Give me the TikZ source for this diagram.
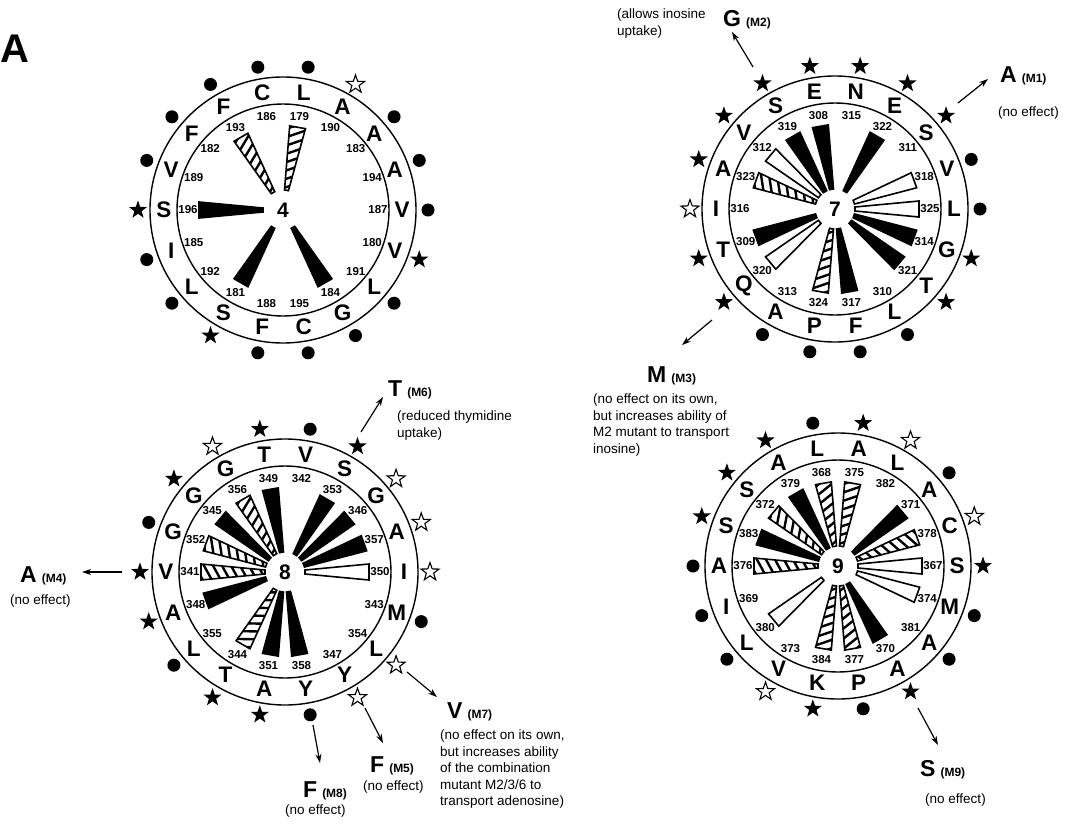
\documentclass[tikz,border=0pt]{standalone}
\usepackage{fontspec}
\setmainfont{Liberation Sans}
\usetikzlibrary{shapes.geometric,arrows.meta}

\newcommand{\bigL}{\fontsize{23}{23}\selectfont\bfseries}
\newcommand{\smallM}{\fontsize{12}{12}\selectfont\bfseries}
\newcommand{\notefont}{\fontsize{13.5}{16.5}\selectfont}

\tikzset{
  wdg/.style={line width=1.6pt, line join=miter, draw=black},
  blackw/.style={wdg, fill=black},
  whitew/.style={wdg, fill=white},
  dotm/.style={circle, fill=black, inner sep=0pt, minimum size=13pt},
  starm/.style={star, star points=5, star point ratio=2.5, fill=black, inner sep=0pt, minimum size=19pt},
  ostarm/.style={starm, fill=white, draw=black, line width=1.1pt},
  resl/.style={font=\fontsize{22.5}{22.5}\selectfont\bfseries, inner sep=0pt},
  resn/.style={font=\fontsize{11.5}{12}\selectfont\bfseries, inner sep=0pt},
  ctr/.style={font=\fontsize{21}{21}\selectfont\bfseries, inner sep=0pt},
  ring/.style={line width=1.4pt},
  arr/.style={-{Stealth[length=9pt,width=6pt]}, line width=1.2pt},
  lab/.style={anchor=base west, inner sep=0pt},
  note/.style={anchor=north west, inner sep=0pt, align=left, font=\notefont},
}

\newcommand{\wB}[1]{\draw[blackw,rotate=#1] (20,-2) -- (84,-8) -- (84,8) -- (20,2) -- cycle;}
\newcommand{\wW}[1]{\draw[whitew,rotate=#1] (20,-2) -- (84,-8) -- (84,8) -- (20,2) -- cycle;}
\newcommand{\wH}[1]{\begin{scope}[rotate=#1]
  \fill[white] (20,-2) -- (84,-8) -- (84,8) -- (20,2) -- cycle;
  \begin{scope}
    \clip (20,-2) -- (84,-8) -- (84,8) -- (20,2) -- cycle;
    \foreach \s in {18,27,...,86} {\draw[line width=2.4pt] (\s,-10) -- (\s+11,10);}
  \end{scope}
  \draw[wdg] (20,-2) -- (84,-8) -- (84,8) -- (20,2) -- cycle;
\end{scope}}

\newcommand{\wbase}[3]{% id, centre label, residue list
  \draw[ring] (0,0) circle[radius=133pt];
  \draw[ring] (0,0) circle[radius=106pt];
  \node[ctr] (#1C) at (0,0) {#2};
  \foreach \a/\L/\n in {#3} {
    \node[resl] (#1L\a) at ({119*cos(\a)},{-119*sin(\a)}) {\L};
    \node[resn] (#1N\a) at ({95*cos(\a)},{-95*sin(\a)}) {\n};
  }}
\newcommand{\wmarks}[4]{% id, dots, stars, open stars
  \foreach \a in {#2} {\node[dotm] (#1D\a) at ({145*cos(\a)},{-145*sin(\a)}) {};}
  \foreach \a in {#3} {\node[starm] (#1S\a) at ({145*cos(\a)},{-145*sin(\a)}) {};}
  \foreach \a in {#4} {\node[ostarm] (#1O\a) at ({145*cos(\a)},{-145*sin(\a)}) {};}
}

\begin{document}
\begin{tikzpicture}[x=1pt,y=-1pt]
\fill[white] (0,0) rectangle (1068,827);
\useasboundingbox (0,0) rectangle (1068,827);

\node[anchor=base west, inner sep=0pt, font=\fontsize{40}{40}\selectfont\bfseries] (panel) at (0,62) {A};

% ---------- wheel 4
\begin{scope}[shift={(283,210)}]
  \wB{180}\wB{240}\wB{300}
  \wH{80}\wH{120}
  \wbase{wa}{4}{0/V/187,20/A/194,40/A/183,60/A/190,80/L/179,100/C/186,120/F/193,140/F/182,160/V/189,180/S/196,200/I/185,220/L/192,240/S/181,260/F/188,280/C/195,300/G/184,320/L/191,340/V/180}
  \wmarks{wa}{0,20,40,80,100,120,140,160,200,220,260,280,300,320}{180,240,340}{60}
\end{scope}

% ---------- wheel 7
\begin{scope}[shift={(835,209)}]
  \wB{60}\wB{100}\wB{120}\wB{200}\wB{280}\wB{320}\wB{340}
  \wW{0}\wW{20}\wW{140}\wW{220}
  \wH{160}\wH{260}
  \wbase{wb}{7}{0/L/325,20/V/318,40/S/311,60/E/322,80/N/315,100/E/308,120/S/319,140/V/312,160/A/323,180/I/316,200/T/309,220/Q/320,240/A/313,260/P/324,280/F/317,300/L/310,320/T/321,340/G/314}
  \wmarks{wb}{0,20,240,260,280,300}{40,60,80,100,120,140,160,200,220,320,340}{180}
\end{scope}

% ---------- wheel 8
\begin{scope}[shift={(285,572)}]
  \wB{20}\wB{40}\wB{60}\wB{100}\wB{140}\wB{200}\wB{260}\wB{280}
  \wW{0}
  \wH{120}\wH{160}\wH{180}\wH{240}
  \wbase{wc}{8}{0/I/350,20/A/357,40/G/346,60/S/353,80/V/342,100/T/349,120/G/356,140/G/345,160/G/352,180/V/341,200/A/348,220/L/355,240/T/344,260/A/351,280/Y/358,300/Y/347,320/L/354,340/M/343}
  \wmarks{wc}{80,160,220,280,340}{60,100,140,180,200,240,260}{0,20,40,120,300,320}
\end{scope}

% ---------- wheel 9
\begin{scope}[shift={(838,566)}]
  \wB{40}\wB{120}\wB{160}\wB{300}
  \wW{0}\wW{220}\wW{340}
  \wH{20}\wH{80}\wH{100}\wH{140}\wH{180}\wH{260}\wH{280}
  \wbase{wd}{9}{0/S/367,20/C/378,40/A/371,60/L/382,80/A/375,100/L/368,120/A/379,140/S/372,160/S/383,180/A/376,200/I/369,220/L/380,240/V/373,260/K/384,280/P/377,300/A/370,320/A/381,340/M/374}
  \wmarks{wd}{40,100,180,200,220,280,320,340}{0,80,120,140,160,260,300}{20,60,240}
\end{scope}

% ---------- mutation labels
\node[lab] (m2) at (723,27) {\bigL G\hspace{5pt}\smallM (M2)};
\node[note] (m2n) at (617,9) {(allows inosine\\uptake)};
\node[lab] (m1) at (1000,82) {\bigL A\hspace{5pt}\smallM (M1)};
\node[note] (m1n) at (998,107) {(no effect)};
\node[lab] (m3) at (647,382) {\bigL M\hspace{5pt}\smallM (M3)};
\node[note] (m3n) at (593,394) {(no effect on its own,\\but increases ability of\\M2 mutant to transport\\inosine)};
\node[lab] (m6) at (388,396) {\bigL T\hspace{5pt}\smallM (M6)};
\node[note] (m6n) at (397,411) {(reduced thymidine\\uptake)};
\node[lab] (m4) at (20,582) {\bigL A\hspace{5pt}\smallM (M4)};
\node[note] (m4n) at (10,595) {(no effect)};
\node[lab] (m8) at (303,797) {\bigL F\hspace{5pt}\smallM (M8)};
\node[note] (m8n) at (285,805) {(no effect)};
\node[lab] (m5) at (370,772) {\bigL F\hspace{5pt}\smallM (M5)};
\node[note] (m5n) at (363,781) {(no effect)};
\node[lab] (m7) at (447,718) {\bigL V\hspace{5pt}\smallM (M7)};
\node[note] (m7n) at (440,730) {(no effect on its own,\\but increases ability\\of the combination\\mutant M2/3/6 to\\transport adenosine)};
\node[lab] (m9) at (920,776) {\bigL S\hspace{5pt}\smallM (M9)};
\node[note] (m9n) at (925,794) {(no effect)};

% ---------- arrows
\coordinate (a1s) at (958,103); \coordinate (a1e) at (988,79);
\coordinate (a2s) at (753,67);  \coordinate (a2e) at (732,32);
\coordinate (a3s) at (712,320); \coordinate (a3e) at (682,345);
\coordinate (a6s) at (361,432); \coordinate (a6e) at (383,397);
\coordinate (a4s) at (122,572); \coordinate (a4e) at (82,572);
\coordinate (a8s) at (313,725); \coordinate (a8e) at (320,763);
\coordinate (a5s) at (365,708); \coordinate (a5e) at (383,743);
\coordinate (a7s) at (407,672); \coordinate (a7e) at (437,697);
\coordinate (a9s) at (918,708); \coordinate (a9e) at (938,745);
\foreach \i in {1,2,3,4,5,6,7,8,9} {\draw[arr] (a\i s) -- (a\i e);}
\end{tikzpicture}
\end{document}
